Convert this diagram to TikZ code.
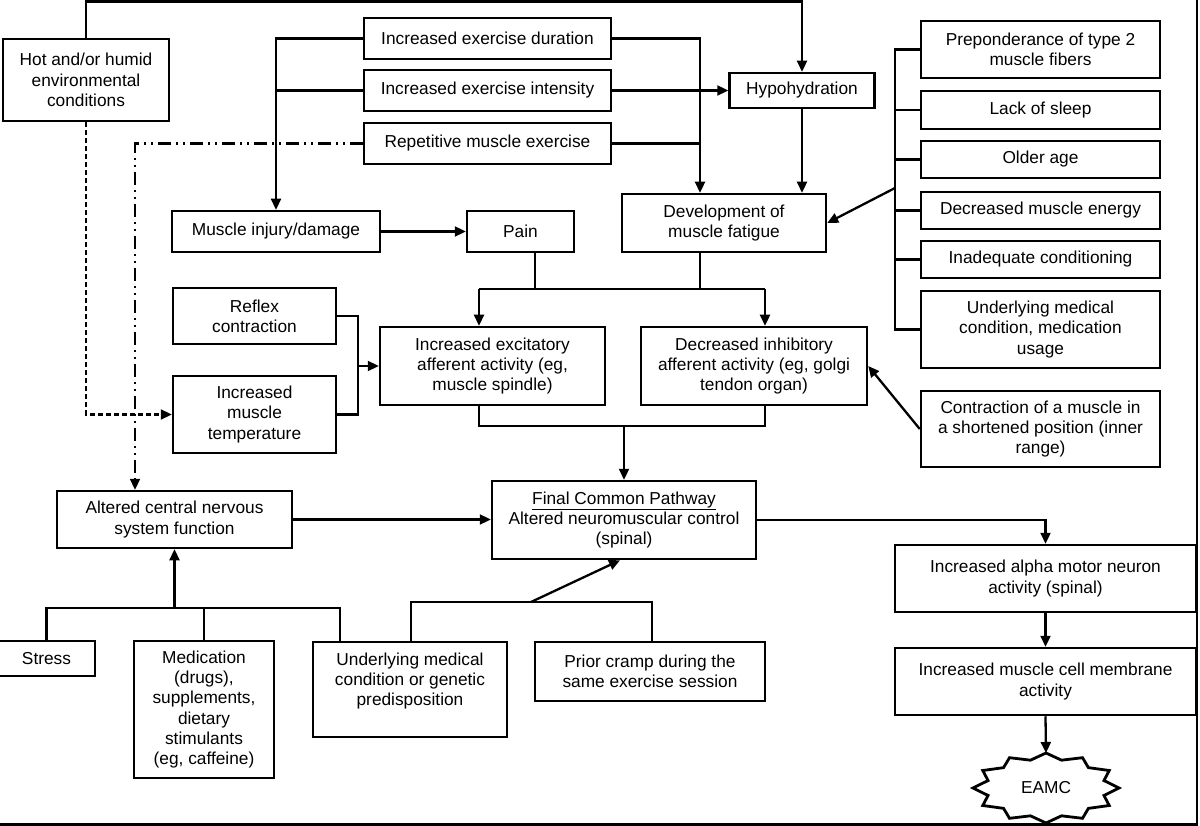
\documentclass[tikz,border=0pt]{standalone}
\usepackage{fontspec}
\setmainfont{Liberation Sans}
\usetikzlibrary{arrows.meta,calc}
\begin{document}
\begin{tikzpicture}[x=1pt,y=-1pt,line width=2.3pt,
  box/.style={draw,line width=2.5pt,align=center,inner sep=0pt,font=\fontsize{17.3}{20.3}\selectfont},
  rbox/.style={box,minimum width=239},
  arr/.style={-{Triangle[length=11pt,width=10pt]}},
  dashline/.style={dash pattern=on 5pt off 3pt},
  dotdashline/.style={dash pattern=on 13pt off 5pt on 2pt off 5pt on 2pt off 5pt},
  framepen/.style={line width=2.8pt}]
\useasboundingbox (0,0) rectangle (1200,826);

% boxes
\node[box,minimum width=166,minimum height=82] (hot) at (86,80) {Hot and/or humid\\environmental\\conditions};
\node[box,minimum width=247,minimum height=41] (dur) at (487.5,38.5) {Increased exercise duration};
\node[box,minimum width=247,minimum height=41] (int) at (487.5,90.5) {Increased exercise intensity};
\node[box,minimum width=247,minimum height=41] (rep) at (487.5,143.5) {Repetitive muscle exercise};
\node[box,minimum width=145,minimum height=35] (hypo) at (802,90.5) {Hypohydration};
\node[box,minimum width=208,minimum height=41] (inj) at (276,231.5) {Muscle injury/damage};
\node[box,minimum width=107,minimum height=41] (pain) at (520.5,231.5) {Pain};
\node[box,minimum width=204,minimum height=58] (fat) at (724,223) {Development of\\muscle fatigue};

\node[rbox,minimum height=57] (prep) at (1040.5,49.5) {Preponderance of type 2\\muscle fibers};
\node[rbox,minimum height=38] (sleep) at (1040.5,110) {Lack of sleep};
\node[rbox,minimum height=37] (older) at (1040.5,159.5) {Older age};
\node[rbox,minimum height=37] (energy) at (1040.5,210.5) {Decreased muscle energy};
\node[rbox,minimum height=37] (inad) at (1040.5,259.5) {Inadequate conditioning};
\node[rbox,minimum height=77] (undmed) at (1040.5,329.5) {Underlying medical\\condition, medication\\usage};
\node[rbox,minimum height=76] (contr) at (1040.5,429) {Contraction of a muscle in\\a shortened position (inner\\range)};

\node[box,minimum width=163,minimum height=56] (reflex) at (254.5,316) {Reflex\\contraction};
\node[box,minimum width=163,minimum height=77] (temp) at (254.5,414.5) {Increased\\muscle\\temperature};
\node[box,minimum width=225,minimum height=78] (exc) at (492.5,366) {Increased excitatory\\afferent activity (eg,\\muscle spindle)};
\node[box,minimum width=226,minimum height=78] (inh) at (754,366) {Decreased inhibitory\\afferent activity (eg, golgi\\tendon organ)};
\node[box,minimum width=235,minimum height=57] (cns) at (174.5,519.5) {Altered central nervous\\system function};
\node[box,minimum width=264,minimum height=78] (fcp) at (624,520) {\underline{Final Common Pathway}\\Altered neuromuscular control\\(spinal)};
\node[box,minimum width=301,minimum height=67] (alpha) at (1045.5,578.5) {Increased alpha motor neuron\\activity (spinal)};
\node[box,minimum width=301,minimum height=67] (memb) at (1045.5,681.5) {Increased muscle cell membrane\\activity};

\node[box,minimum width=97,minimum height=35] (stress) at (46.5,658.5) {Stress};
\node[box,minimum width=140,minimum height=137] (med) at (204,709.5) {Medication\\(drugs),\\supplements,\\dietary\\stimulants\\(eg, caffeine)};
\node[box,minimum width=194,minimum height=95] (gen) at (410,689.5) {Underlying medical\\condition or genetic\\predisposition\\\mbox{}};
\node[box,minimum width=230,minimum height=59] (prior) at (650,671.5) {Prior cramp during the\\same exercise session};

% EAMC starburst
\draw[line width=2.8pt,line join=miter] (1046,753)
  \foreach \k in {1,...,23} { -- ({1046+(mod(\k,2)==0 ? 73 : 60)*cos(90+15*\k)}, {788-(mod(\k,2)==0 ? 35 : 28.8)*sin(90+15*\k)}) } -- cycle;
\node[font=\fontsize{17.3}{20.3}\selectfont] (eamc) at (1046,788) {EAMC};
\coordinate (eamctop) at (1046,753);

% helper coordinates
\coordinate (topy) at (0,1.5);
\coordinate (fin) at ([xshift=-24pt]fat.north);
\coordinate (fout) at ([xshift=-24pt]fat.south);
\coordinate (bus) at (895,0);
\coordinate (busout) at (895,188);
\coordinate (pout) at ([xshift=14.5pt]pain.south);
\coordinate (split) at (0,289);
\coordinate (excin) at ([xshift=-13.5pt]exc.north);
\coordinate (inhin) at ([xshift=11pt]inh.north);
\coordinate (excout) at ([xshift=-13.5pt]exc.south);
\coordinate (inhout) at ([xshift=11pt]inh.south);
\coordinate (join) at (0,426);
\coordinate (brk) at (358,0);
\coordinate (cnsin) at ([xshift=-39.5pt]cns.north);
\coordinate (bl) at (0,608);
\coordinate (gin) at ([xshift=-70pt]gen.north);
\coordinate (br) at (0,602);
\coordinate (gin2) at ([xshift=1pt]gen.north);
\coordinate (pin) at ([xshift=2pt]prior.north);
\coordinate (brout) at (531,602);
\coordinate (fcpin) at ([xshift=-4pt]fcp.south);

% connectors
\draw[arr] (hot.north) -- (hot.north |- topy) -| (hypo.north);
\draw[arr] (dur.west) -| (inj.north);
\draw (int.west) -- (int.west -| inj.north);
\draw[arr] (dur.east) -| (fin);
\draw (rep.east) -- (rep.east -| fin);
\draw[arr] (int.east) -- (hypo.west);
\draw[arr] (hypo.south) -- (hypo.south |- fat.north);

\draw (prep.west) -- (prep.west -| bus) -- (undmed.west -| bus) -- (undmed.west);
\foreach \n in {sleep,older,energy,inad} \draw (\n.west) -- (\n.west -| bus);
\draw[arr] (busout) -- (fat.east);

\draw[arr] (inj.east) -- (pain.west);
\draw (pout) -- (pout |- split);
\draw (fout) -- (fout |- split);
\draw (excin |- split) -- (inhin |- split);
\draw[arr] (excin |- split) -- (excin);
\draw[arr] (inhin |- split) -- (inhin);

\draw (excout) |- (inhout |- join) -- (inhout);
\draw[arr] (fcp.north |- join) -- (fcp.north);

\draw (reflex.east) -| (brk |- temp.east) -- (temp.east);
\draw[arr] (brk |- exc.west) -- (exc.west);
\draw[arr] (contr.west) -- (inh.east);

\draw[arr,dashline] (hot.south) |- (temp.west);
\draw[arr,dotdashline] (rep.west) -| (cnsin);
\draw[arr] (cns.east) -- (cns.east -| fcp.west);

\draw (stress.north) |- (bl -| gin) -- (gin);
\draw (med.north) -- (med.north |- bl);
\draw[arr] (cns.south |- bl) -- (cns.south);

\draw (gin2) |- (pin |- br) -- (pin);
\draw[arr] (brout) -- (fcpin);

\draw[arr] (fcp.east) -| (alpha.north);
\draw[arr] (alpha.south) -- (memb.north);
\draw[arr] (memb.south) -- (eamctop);

% frame
\draw[framepen] (0,824.5) -- (1197,824.5) -- (1197,0);
\end{tikzpicture}
\end{document}
